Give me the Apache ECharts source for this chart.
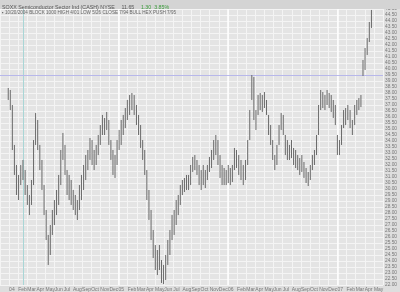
<!DOCTYPE html>
<html><head><meta charset="utf-8">
<script src="https://cdn.jsdelivr.net/npm/echarts@6/dist/echarts.min.js"></script>
<style>html,body{margin:0;padding:0;background:#dedede;}#c{width:400px;height:292px;}</style>
</head><body><div id="c"></div>
<script>
// ---- data ----
const startWeek = [2003, 11, 29]; // first weekly bar (UTC y, m0, d)
const monthNames = ['Jan','Feb','Mar','Apr','May','Jun','Jul','Aug','Sep','Oct','Nov','Dec'];
const yearLabels = ['04','05','06','07'];
const weekHigh = [
 38.42,38.25,37.0,33.67,32.0,31.17,32.0,32.42,31.58,30.33,
 29.5,30.75,34.08,36.33,35.75,33.67,32.42,30.33,28.25,26.17,
 27.0,28.25,29.08,29.92,31.17,33.25,34.67,33.67,31.58,31.17,
 30.75,29.92,29.5,29.08,30.33,31.17,32.0,32.83,33.25,34.25,
 34.08,33.25,33.67,34.5,35.33,36.17,35.92,36.42,35.75,34.08,
 33.25,32.83,34.08,34.92,35.75,36.17,36.75,37.42,37.83,38.0,
 37.83,37.0,36.17,35.33,34.08,33.25,31.58,29.92,28.25,26.58,
 25.33,24.92,25.33,24.08,23.67,24.5,25.75,26.58,27.83,28.25,
 29.08,29.5,30.33,30.75,30.92,31.17,31.17,32.0,32.67,32.83,
 32.42,32.0,31.58,32.0,31.58,32.0,32.67,33.25,34.08,34.5,
 34.08,32.83,32.0,31.75,31.58,32.0,31.75,32.0,33.42,33.25,
 32.83,32.42,32.0,32.42,34.08,36.58,39.5,39.33,36.58,37.83,
 38.0,37.83,38.08,37.42,36.17,35.33,34.08,32.83,33.67,35.33,
 36.33,36.17,34.5,34.08,33.67,34.08,33.42,33.25,32.83,32.58,
 32.83,32.25,31.75,31.42,32.0,32.83,33.25,34.5,37.0,38.25,
 38.08,37.83,38.25,38.0,37.83,37.42,37.0,34.5,34.08,35.33,
 36.58,36.75,37.0,36.58,35.75,37.0,37.42,37.58,37.83,40.75,
 41.75,42.58,43.92,44.92
];
const weekLow = [
 37.42,36.58,33.25,31.17,29.5,29.08,30.33,30.75,29.5,28.67,
 27.83,28.67,30.33,33.67,33.25,31.58,29.92,27.83,25.75,23.67,
 24.5,26.17,27.0,27.83,28.67,30.33,32.42,31.17,29.5,29.08,
 28.67,28.25,27.83,27.42,28.25,29.08,29.92,30.75,31.58,32.42,
 32.0,31.58,32.0,32.83,33.67,34.5,34.5,34.92,33.67,32.42,
 31.17,30.92,32.0,33.25,33.67,34.5,35.08,35.75,36.17,36.58,
 36.17,35.33,34.5,33.42,32.42,31.17,29.08,27.42,25.75,24.25,
 23.25,22.83,23.25,22.17,22.08,22.42,23.67,24.5,25.75,26.17,
 27.0,27.83,28.67,29.5,29.75,29.92,29.92,30.33,31.42,31.58,
 31.17,30.33,29.92,30.33,30.08,30.75,31.42,31.75,32.42,32.83,
 32.0,30.92,30.33,30.33,30.33,30.5,30.33,30.58,31.58,31.75,
 31.17,30.75,30.33,30.75,32.0,34.08,37.42,35.75,34.92,36.17,
 36.58,36.42,36.75,36.17,34.5,33.67,32.42,31.58,32.0,33.67,
 34.92,34.5,32.83,32.42,32.42,32.58,32.0,31.75,31.58,31.17,
 31.42,30.92,30.5,30.25,30.75,31.58,32.0,32.83,34.5,36.58,
 36.75,36.58,37.0,36.75,36.42,35.92,35.33,32.83,32.83,33.67,
 35.08,35.33,35.75,35.08,34.5,35.33,36.17,36.58,36.83,39.42,
 39.92,41.17,42.25,43.42
];
const levelLine = 39.5;
const markerDate = [2004, 1, 18];
const titleMain = 'SOXX Semiconductor Sector Ind (CASH) NYSE';
const titleLast = '11.65';
const titleChg = '1.30  3.85%';
const legendText = '\u25aa 10/20/2004 BLOCK 1000 HIGH 4/01 LOW 5/26 CLOSE 7/94 BULL HEX PUSH 7/95';

// ---- helpers ----
const BASE_YEAR = 2004;
function monthPos(y, m0, d) {
  const dim = new Date(Date.UTC(y, m0 + 1, 0)).getUTCDate();
  return (y - BASE_YEAR) * 12 + m0 + (d - 1) / dim;
}
function weekPos(i) {
  const t = new Date(Date.UTC(startWeek[0], startWeek[1], startWeek[2] + 7 * i));
  return monthPos(t.getUTCFullYear(), t.getUTCMonth(), t.getUTCDate());
}
const bars = weekHigh.map((h, i) => [weekPos(i), h, weekLow[i]]);
const yearLines = yearLabels.slice(1).map((_, i) => ({ xAxis: (i + 1) * 12 }));

function markSeries(data, color, width) {
  return {
    type: 'line', data: [], silent: true, z: 1,
    markLine: { silent: true, symbol: ['none', 'none'], animation: false, label: { show: false },
      lineStyle: { color: color, width: width, type: 'solid', opacity: 1 },
      emphasis: { disabled: true },
      data: data }
  };
}

const chart = echarts.init(document.getElementById('c'), null, { renderer: 'canvas' });
const FONT = 'Liberation Sans';
chart.setOption({
  animation: false,
  backgroundColor: '#dedede',
  grid: { left: -6.417, right: 10.9, top: 9, bottom: 7, show: true, backgroundColor: '#e4e4e4', borderWidth: 0 },
  xAxis: {
    type: 'value', min: -1, max: 41, interval: 1,
    axisLine: { show: false }, axisTick: { show: false },
    splitLine: { show: true, lineStyle: { color: '#f4f4f4', width: 1 } },
    axisLabel: {
      fontSize: 5, color: '#777', fontFamily: FONT, align: 'left', margin: 2, showMinLabel: false,
      formatter: v => {
        if (v < 0) return '';
        const mi = Math.round(v) % 12;
        return mi === 0 ? yearLabels[Math.round(v) / 12] : monthNames[mi];
      }
    }
  },
  yAxis: {
    type: 'value', position: 'right', min: 22, max: 45, interval: 0.5,
    axisLine: { show: false }, axisTick: { show: false },
    splitLine: { show: true, lineStyle: { color: '#f4f4f4', width: 1 } },
    axisLabel: { fontSize: 4.8, color: '#777', fontFamily: FONT, margin: 2, formatter: v => v.toFixed(2) }
  },
  graphic: [
    { type: 'rect', shape: { x: 0, y: 0, width: 400, height: 9 }, style: { fill: '#d4d4d4' }, z: 100 },
    { type: 'text', x: 2, y: 1.5, z: 101, style: {
      text: '{a|' + titleMain + '}  {b|' + titleLast + '}  {g|' + titleChg + '}',
      rich: { a: { fontSize: 5.3, fill: '#555', fontFamily: FONT }, b: { fontSize: 5.3, fill: '#555', fontFamily: FONT }, g: { fontSize: 5.3, fill: '#3a9a3a', fontFamily: FONT } } } },
    { type: 'text', x: 2, y: 10.5, z: 101, style: { text: legendText, fontSize: 4.6, fill: '#666', fontFamily: FONT } }
  ],
  series: [
    markSeries(yearLines, '#ffffff', 1.5),
    markSeries([{ xAxis: monthPos(...markerDate) }], '#a9d6d6', 1),
    markSeries([{ yAxis: levelLine }], '#b8b8ea', 1),
    {
      type: 'custom', data: bars, encode: { x: 0, y: [1, 2] }, clip: true, z: 5,
      renderItem: (params, api) => {
        const a = api.coord([api.value(0), api.value(1)]);
        const b = api.coord([api.value(0), api.value(2)]);
        return { type: 'line', shape: { x1: a[0], y1: a[1], x2: b[0], y2: b[1] }, style: { stroke: '#6a6a6a', lineWidth: 1 } };
      }
    }
  ]
});
</script></body></html>
